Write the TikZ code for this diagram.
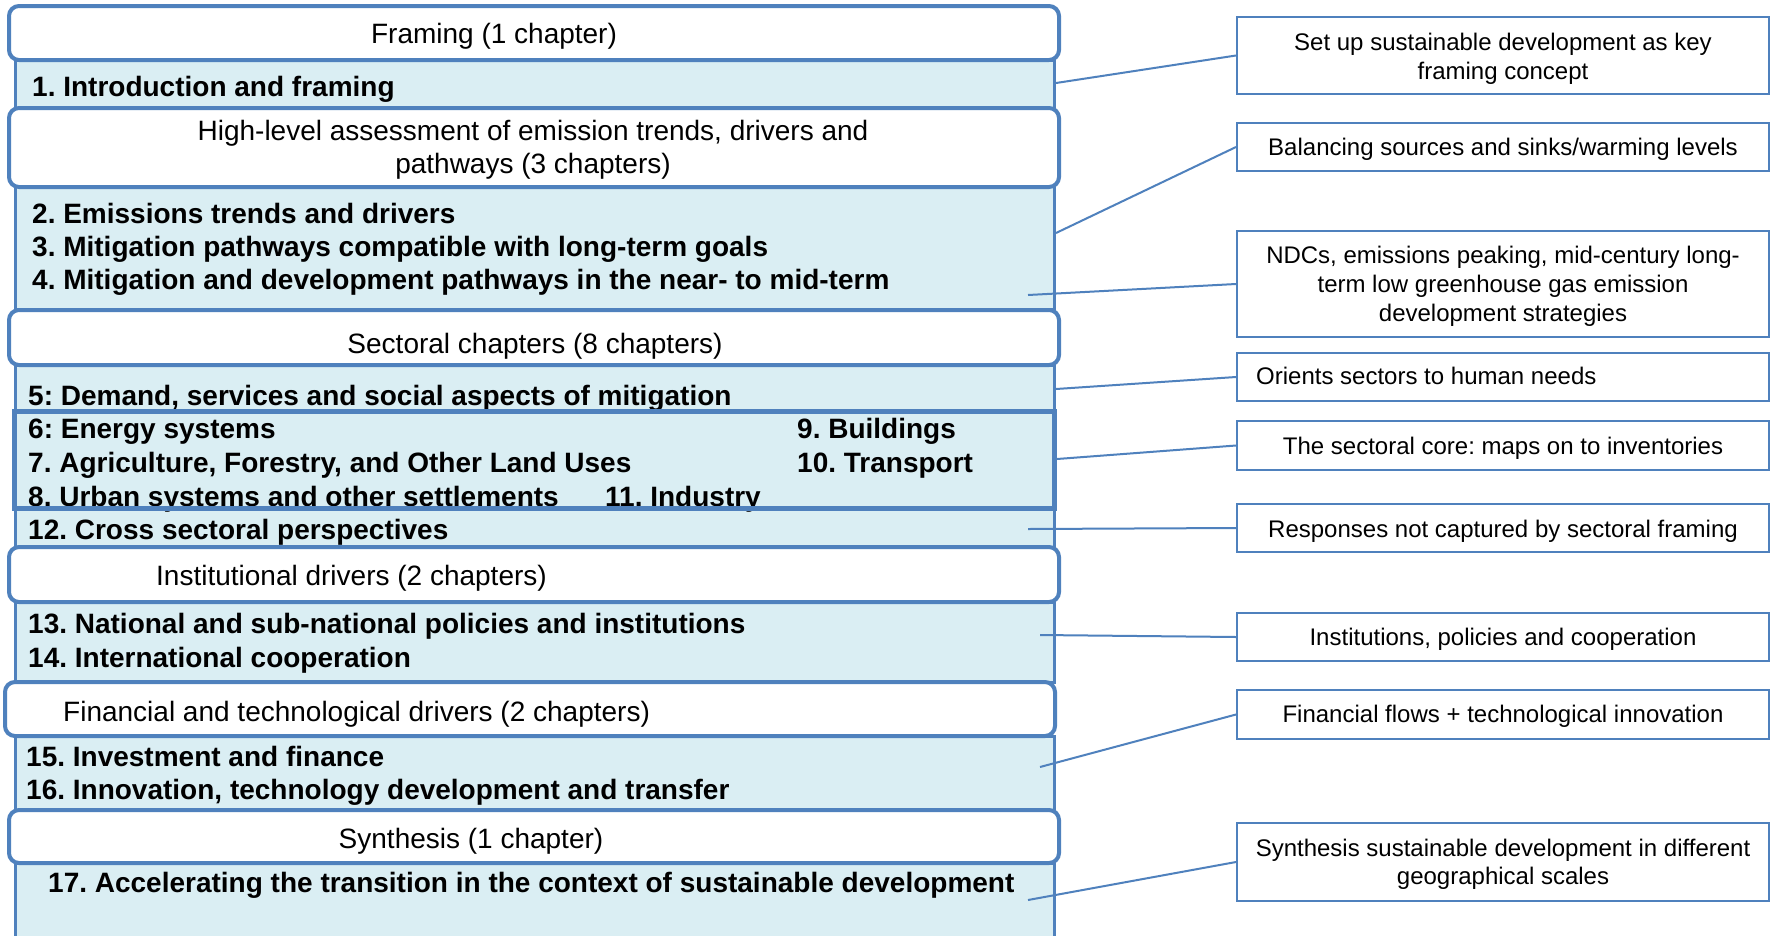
\documentclass[tikz,border=0pt]{standalone}
\usepackage{fontspec}
\setmainfont{Liberation Sans}
\usetikzlibrary{fit}
\definecolor{accblue}{HTML}{4F81BD}
\definecolor{bandfill}{HTML}{DAEEF3}
\frenchspacing
\tikzset{
  wbox/.style={draw=accblue, line width=4pt, fill=white, rounded corners=10pt, inner sep=0pt},
  band/.style={draw=accblue, line width=3pt, fill=bandfill, inner sep=0pt},
  bandfillonly/.style={fill=bandfill, inner sep=0pt},
  coreline/.style={draw=accblue, line width=5pt},
  rbox/.style={draw=accblue, line width=2pt, fill=white, inner sep=0pt},
  conn/.style={draw=accblue, line width=2pt},
  ltxt/.style={anchor=base west, inner sep=0pt, font=\fontsize{28}{33.5}\selectfont\bfseries},
  htxt/.style={anchor=base, inner sep=0pt, font=\fontsize{28}{33.5}\selectfont},
  htxtl/.style={anchor=base west, inner sep=0pt, font=\fontsize{28}{33.5}\selectfont},
  rtxt/.style={anchor=base, inner sep=0pt, font=\fontsize{24}{28.5}\selectfont},
  rtxtl/.style={anchor=base west, inner sep=0pt, font=\fontsize{24}{28.5}\selectfont}
}
\begin{document}
\frenchspacing
\begin{tikzpicture}[x=1pt,y=-1pt]
\useasboundingbox[fill=white] (0,0) rectangle (1771,935);

% light blue bands
\node[band, fit={(15,60) (1054,108)}] (b1) {};
\node[band, fit={(15,186) (1054,309)}] (b2) {};
\node[band, fit={(15,365) (1054,412)}] (b3) {};
\node[bandfillonly, fit={(15,412) (1054,508)}] (core) {};
\node[band, fit={(15,508) (1054,547)}] (b12) {};
\node[band, fit={(15,602) (1054,682)}] (b13) {};
\node[band, fit={(15,736) (1054,811)}] (b15) {};
\node[band, fit={(15,863) (1054,945)}] (b17) {};

% chapter texts
\node[ltxt] (t1) at (32,96.5) {1. Introduction and framing};
\node[ltxt] (t2) at (32,223) {2. Emissions trends and drivers};
\node[ltxt] (t3) at (32,256.5) {3. Mitigation pathways compatible with long-term goals};
\node[ltxt] (t4) at (32,289.5) {4. Mitigation and development pathways in the near- to mid-term};
\node[ltxt] (t5) at (28,405) {5: Demand, services and social aspects of mitigation};
\node[ltxt] (t6) at (28,438.5) {6: Energy systems};
\node[ltxt] (t9) at (797,438.5) {9. Buildings};
\node[ltxt] (t7) at (28,472) {7. Agriculture, Forestry, and Other Land Uses};
\node[ltxt] (t10) at (797,472) {10. Transport};
\node[ltxt] (t8) at (28,506) {8. Urban systems and other settlements};
\node[ltxt] (t11) at (605,506) {11. Industry};
\node[ltxt] (t12) at (28,539) {12. Cross sectoral perspectives};
\node[ltxt] (t13) at (28,633.5) {13. National and sub-national policies and institutions};
\node[ltxt] (t14) at (28,667) {14. International cooperation};
\node[ltxt] (t15) at (26,766.5) {15. Investment and finance};
\node[ltxt] (t16) at (26,799.5) {16. Innovation, technology development and transfer};
\node[ltxt] (t17) at (48,892) {17. Accelerating the transition in the context of sustainable development};

% sectoral core border
\draw[coreline] (core.north west) rectangle (core.south east);

% white group boxes
\node[wbox, fit={(9,6) (1059,60)}] (w1) {};
\node[wbox, fit={(9,108) (1059,187)}] (w2) {};
\node[wbox, fit={(9,310) (1059,365)}] (w3) {};
\node[wbox, fit={(9,547) (1059,602)}] (w4) {};
\node[wbox, fit={(5,682) (1055,736)}] (w5) {};
\node[wbox, fit={(9,810) (1059,863)}] (w6) {};

\node[htxt] (h1) at (494,43) {Framing (1 chapter)};
\node[htxt] (h2a) at (533,140.5) {High-level assessment of emission trends, drivers and};
\node[htxt] (h2b) at (533,173.5) {pathways (3 chapters)};
\node[htxt] (h3) at (535,353) {Sectoral chapters (8 chapters)};
\node[htxtl] (h4) at (156,585) {Institutional drivers (2 chapters)};
\node[htxtl] (h5) at (63,721.5) {Financial and technological drivers (2 chapters)};
\node[htxt] (h6) at (471,848.5) {Synthesis (1 chapter)};

% right boxes
\node[rbox, fit={(1237,17) (1769,94)}] (r1) {};
\node[rbox, fit={(1237,123) (1769,171)}] (r2) {};
\node[rbox, fit={(1237,231) (1769,337)}] (r3) {};
\node[rbox, fit={(1237,353) (1769,401)}] (r4) {};
\node[rbox, fit={(1237,421) (1769,470)}] (r5) {};
\node[rbox, fit={(1237,504) (1769,552)}] (r6) {};
\node[rbox, fit={(1237,613) (1769,661)}] (r7) {};
\node[rbox, fit={(1237,690) (1769,739)}] (r8) {};
\node[rbox, fit={(1237,823) (1769,901)}] (r9) {};

\node[rtxt] (r1a) at (1503,50.5) {Set up sustainable development as key};
\node[rtxt] (r1b) at (1503,79) {framing concept};
\node[rtxt] (r2a) at (1503,155.5) {Balancing sources and sinks/warming levels};
\node[rtxt] (r3a) at (1503,263.5) {NDCs, emissions peaking, mid-century long-};
\node[rtxt] (r3b) at (1503,292.5) {term low greenhouse gas emission};
\node[rtxt] (r3c) at (1503,321) {development strategies};
\node[rtxtl] (r4a) at (1256,384.5) {Orients sectors to human needs};
\node[rtxt] (r5a) at (1503,454.5) {The sectoral core: maps on to inventories};
\node[rtxt] (r6a) at (1503,537) {Responses not captured by sectoral framing};
\node[rtxt] (r7a) at (1503,645.5) {Institutions, policies and cooperation};
\node[rtxt] (r8a) at (1503,722) {Financial flows + technological innovation};
\node[rtxt] (r9a) at (1503,856) {Synthesis sustainable development in different};
\node[rtxt] (r9b) at (1503,884.5) {geographical scales};

% connector start points
\coordinate (c1) at (1056,83);
\coordinate (c2) at (1056,233);
\coordinate (c3) at (1028,295);
\coordinate (c4) at (1056,389);
\coordinate (c5) at (1057,459);
\coordinate (c6) at (1028,529);
\coordinate (c7) at (1040,635);
\coordinate (c8) at (1040,767);
\coordinate (c9) at (1028,900);

\draw[conn] (c1) -- (r1.west);
\draw[conn] (c2) -- (r2.west);
\draw[conn] (c3) -- (r3.west);
\draw[conn] (c4) -- (r4.west);
\draw[conn] (c5) -- (r5.west);
\draw[conn] (c6) -- (r6.west);
\draw[conn] (c7) -- (r7.west);
\draw[conn] (c8) -- (r8.west);
\draw[conn] (c9) -- (r9.west);
\end{tikzpicture}
\end{document}
